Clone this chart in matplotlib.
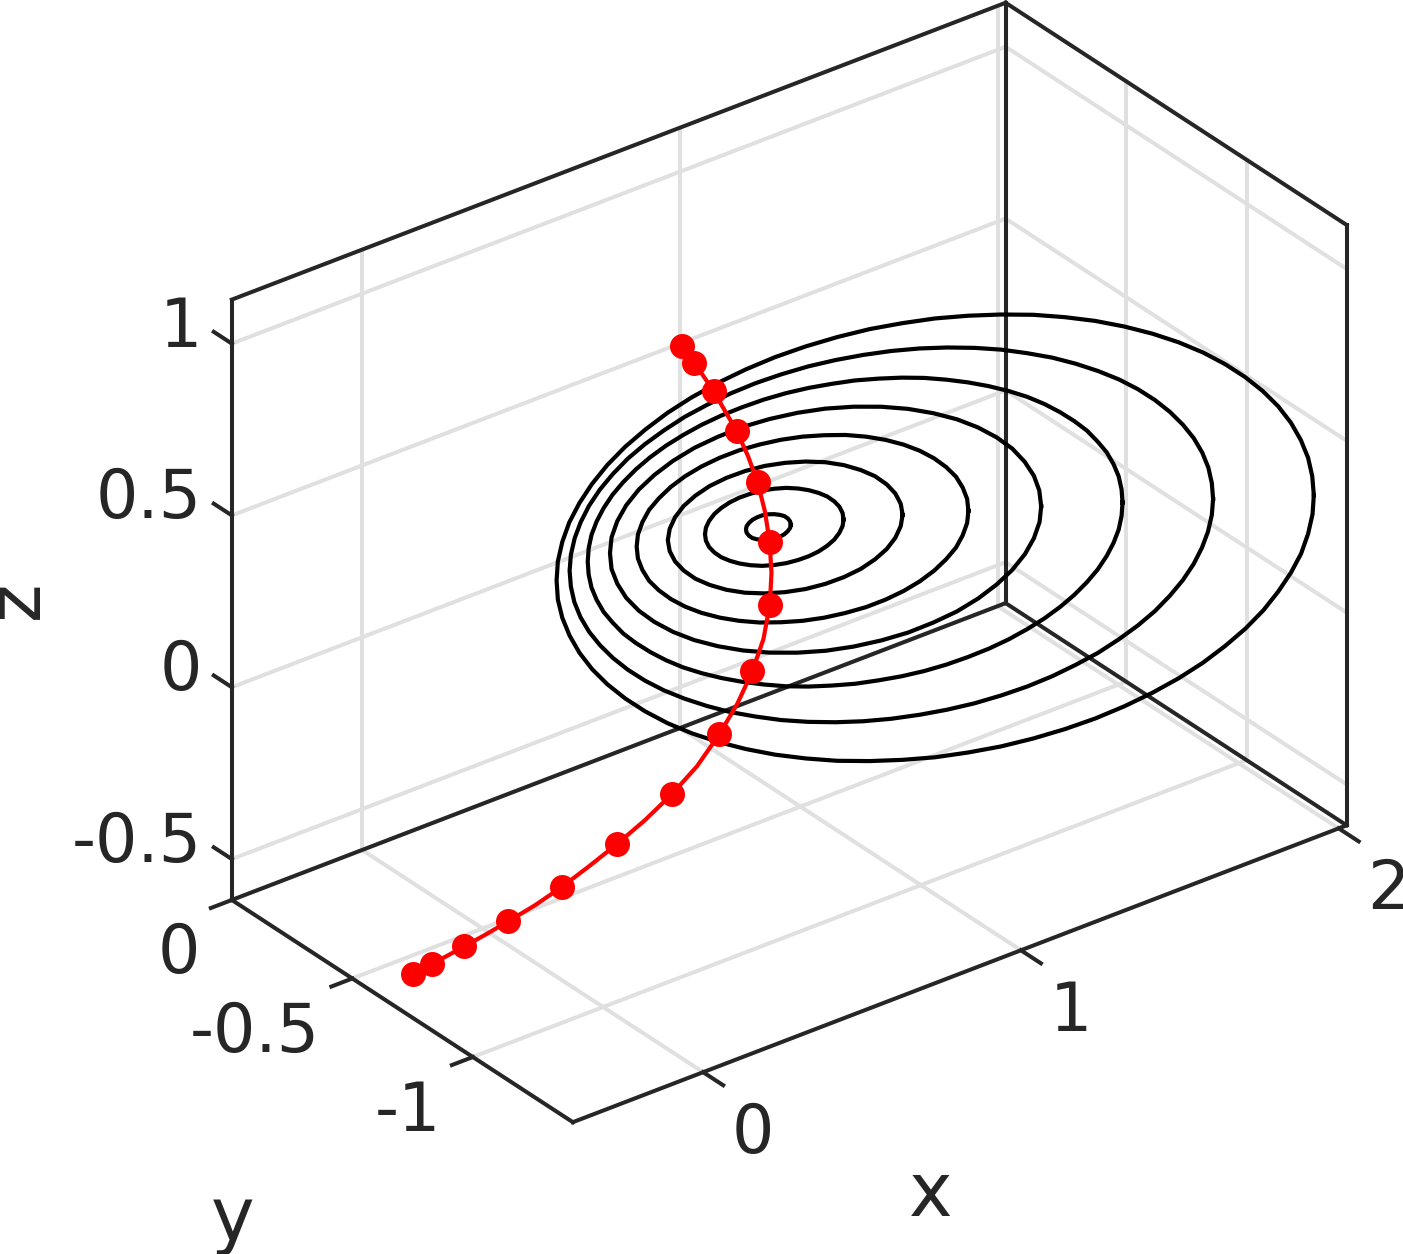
import matplotlib
matplotlib.use('Agg')
import matplotlib.pyplot as plt
from mpl_toolkits.mplot3d import proj3d

# axis limits and ticks
x_lim = [-0.41, 2.025]
y_lim = [-1.415, 0.0]
z_lim = [-0.619, 1.128]
x_ticks = [0, 1, 2]
y_ticks = [-1, -0.5, 0]
z_ticks = [-0.5, 0, 0.5, 1]
x_labels = ['0', '1', '2']
y_labels = ['-1', '-0.5', '0']
z_labels = ['-0.5', '0', '0.5', '1']

# red curve, every second point carries a marker
red_x = [0.47, 0.444, 0.419, 0.393, 0.367, 0.342, 0.316, 0.29, 0.264, 0.239, 0.213,
         0.187, 0.162, 0.136, 0.11, 0.085, 0.059, 0.033, 0.007, -0.018, -0.044,
         -0.07, -0.095, -0.121, -0.147, -0.173, -0.198, -0.224, -0.25, -0.275, -0.3]
red_y = [-0.707, -0.767, -0.826, -0.9, -0.975, -1.055, -1.138, -1.219, -1.293, -1.356, -1.41,
         -1.452, -1.478, -1.486, -1.474, -1.445, -1.404, -1.346, -1.276, -1.197, -1.115,
         -1.035, -0.953, -0.876, -0.8, -0.741, -0.685, -0.651, -0.62, -0.615, -0.607]
red_z = [1.004, 1.017, 1.028, 1.03, 1.031, 1.019, 1.008, 0.981, 0.948, 0.902, 0.847,
         0.784, 0.712, 0.626, 0.535, 0.437, 0.338, 0.228, 0.124, 0.021, -0.077,
         -0.168, -0.258, -0.337, -0.409, -0.465, -0.516, -0.549, -0.578, -0.586, -0.595]

# black closed curves, all read in one plane
loop_y = -1.3
x1 = [2.009, 2.004, 1.991, 1.968, 1.937, 1.897, 1.849, 1.793, 1.73, 1.66, 1.583, 1.501, 1.413, 1.321, 1.225, 1.126, 1.024, 0.921,
      0.817, 0.713, 0.611, 0.509, 0.41, 0.314, 0.222, 0.134, 0.051, -0.025, -0.095, -0.159, -0.215, -0.263, -0.302, -0.334, -0.356, -0.37,
      -0.374, -0.37, -0.356, -0.333, -0.302, -0.262, -0.214, -0.158, -0.095, -0.025, 0.052, 0.134, 0.222, 0.314, 0.41, 0.509, 0.611, 0.714,
      0.817, 0.921, 1.024, 1.126, 1.225, 1.321, 1.413, 1.501, 1.584, 1.66, 1.73, 1.794, 1.85, 1.897, 1.937, 1.969, 1.991, 2.005]
z1 = [0.295, 0.352, 0.41, 0.47, 0.531, 0.593, 0.654, 0.715, 0.775, 0.834, 0.891, 0.945, 0.997, 1.046, 1.091, 1.133, 1.17, 1.203,
      1.232, 1.255, 1.274, 1.287, 1.295, 1.298, 1.295, 1.287, 1.274, 1.256, 1.232, 1.204, 1.171, 1.133, 1.092, 1.047, 0.998, 0.946,
      0.892, 0.835, 0.777, 0.717, 0.656, 0.594, 0.533, 0.472, 0.412, 0.353, 0.296, 0.242, 0.19, 0.141, 0.096, 0.054, 0.017, -0.016,
      -0.045, -0.068, -0.087, -0.1, -0.108, -0.111, -0.108, -0.1, -0.087, -0.069, -0.045, -0.017, 0.016, 0.054, 0.095, 0.139, 0.189, 0.241]
x2 = [1.692, 1.688, 1.677, 1.658, 1.631, 1.597, 1.556, 1.509, 1.455, 1.396, 1.33, 1.26, 1.186, 1.107, 1.026, 0.942, 0.855, 0.768,
      0.68, 0.591, 0.504, 0.418, 0.333, 0.252, 0.174, 0.099, 0.029, -0.036, -0.096, -0.15, -0.197, -0.238, -0.272, -0.298, -0.317, -0.329,
      -0.333, -0.329, -0.318, -0.299, -0.272, -0.238, -0.197, -0.15, -0.096, -0.037, 0.029, 0.099, 0.173, 0.252, 0.333, 0.417, 0.504, 0.591,
      0.679, 0.768, 0.855, 0.941, 1.026, 1.107, 1.185, 1.26, 1.33, 1.395, 1.455, 1.509, 1.556, 1.597, 1.631, 1.657, 1.676, 1.688]
z2 = [0.396, 0.444, 0.493, 0.543, 0.595, 0.646, 0.698, 0.749, 0.8, 0.849, 0.897, 0.943, 0.987, 1.028, 1.067, 1.102, 1.134, 1.162,
      1.186, 1.206, 1.222, 1.234, 1.241, 1.244, 1.242, 1.235, 1.225, 1.209, 1.19, 1.167, 1.139, 1.108, 1.073, 1.035, 0.995, 0.951,
      0.906, 0.858, 0.809, 0.759, 0.707, 0.656, 0.604, 0.553, 0.502, 0.453, 0.405, 0.359, 0.315, 0.274, 0.235, 0.2, 0.168, 0.14,
      0.116, 0.096, 0.08, 0.068, 0.061, 0.058, 0.06, 0.067, 0.077, 0.093, 0.112, 0.135, 0.163, 0.194, 0.229, 0.267, 0.307, 0.351]
x3 = [1.407, 1.404, 1.395, 1.379, 1.357, 1.328, 1.295, 1.255, 1.21, 1.161, 1.107, 1.048, 0.986, 0.921, 0.853, 0.783, 0.712, 0.639,
      0.565, 0.492, 0.419, 0.348, 0.278, 0.21, 0.144, 0.082, 0.024, -0.03, -0.08, -0.124, -0.164, -0.198, -0.226, -0.248, -0.264, -0.273,
      -0.276, -0.273, -0.264, -0.248, -0.226, -0.197, -0.164, -0.124, -0.079, -0.03, 0.024, 0.083, 0.145, 0.21, 0.278, 0.348, 0.419, 0.492,
      0.566, 0.639, 0.712, 0.783, 0.853, 0.921, 0.987, 1.049, 1.107, 1.161, 1.211, 1.255, 1.295, 1.329, 1.357, 1.379, 1.395, 1.404]
z3 = [0.487, 0.526, 0.567, 0.608, 0.651, 0.693, 0.736, 0.778, 0.82, 0.861, 0.901, 0.939, 0.975, 1.009, 1.041, 1.071, 1.097, 1.12,
      1.141, 1.157, 1.171, 1.181, 1.187, 1.189, 1.188, 1.183, 1.174, 1.162, 1.146, 1.127, 1.104, 1.079, 1.05, 1.019, 0.986, 0.95,
      0.912, 0.873, 0.832, 0.791, 0.748, 0.706, 0.663, 0.621, 0.579, 0.538, 0.498, 0.46, 0.424, 0.39, 0.358, 0.328, 0.302, 0.279,
      0.258, 0.242, 0.228, 0.218, 0.212, 0.21, 0.211, 0.216, 0.225, 0.237, 0.253, 0.272, 0.295, 0.32, 0.349, 0.38, 0.413, 0.449]
x4 = [1.151, 1.145, 1.128, 1.099, 1.06, 1.011, 0.952, 0.886, 0.812, 0.732, 0.648, 0.561, 0.472, 0.384, 0.297, 0.213, 0.133, 0.059, -0.008, -0.066, -0.115, -0.155, -0.183, -0.201,
      -0.206, -0.201, -0.183, -0.155, -0.115, -0.066, -0.007, 0.059, 0.133, 0.213, 0.297, 0.384, 0.473, 0.561, 0.648, 0.732, 0.812, 0.886, 0.953, 1.011, 1.06, 1.1, 1.128, 1.146]
z4 = [0.567, 0.615, 0.664, 0.715, 0.767, 0.817, 0.867, 0.914, 0.958, 0.999, 1.035, 1.066, 1.092, 1.111, 1.124, 1.131, 1.13, 1.124, 1.11, 1.09, 1.065, 1.033, 0.997, 0.956,
      0.912, 0.864, 0.815, 0.764, 0.712, 0.662, 0.612, 0.565, 0.521, 0.48, 0.444, 0.413, 0.387, 0.368, 0.355, 0.348, 0.349, 0.355, 0.369, 0.389, 0.414, 0.446, 0.482, 0.523]
x5 = [0.922, 0.918, 0.904, 0.883, 0.852, 0.814, 0.769, 0.718, 0.661, 0.6, 0.535, 0.468, 0.4, 0.332, 0.265, 0.2, 0.139, 0.082, 0.031, -0.014, -0.052, -0.083, -0.104, -0.118,
      -0.122, -0.118, -0.104, -0.083, -0.052, -0.014, 0.031, 0.082, 0.139, 0.2, 0.265, 0.332, 0.4, 0.468, 0.535, 0.6, 0.661, 0.718, 0.769, 0.814, 0.852, 0.883, 0.904, 0.918]
z5 = [0.635, 0.671, 0.709, 0.748, 0.787, 0.826, 0.864, 0.9, 0.934, 0.965, 0.993, 1.016, 1.036, 1.051, 1.061, 1.067, 1.067, 1.062, 1.052, 1.037, 1.017, 0.994, 0.966, 0.935,
      0.901, 0.865, 0.827, 0.788, 0.749, 0.71, 0.672, 0.636, 0.602, 0.571, 0.543, 0.52, 0.5, 0.485, 0.475, 0.469, 0.469, 0.474, 0.484, 0.499, 0.519, 0.542, 0.57, 0.601]
x6 = [0.715, 0.709, 0.692, 0.665, 0.628, 0.583, 0.53, 0.472, 0.41, 0.346, 0.281, 0.219, 0.161, 0.108, 0.063, 0.026, -0.001, -0.018,
      -0.024, -0.018, -0.001, 0.026, 0.063, 0.108, 0.161, 0.219, 0.281, 0.345, 0.41, 0.472, 0.53, 0.583, 0.628, 0.665, 0.692, 0.709]
z6 = [0.697, 0.731, 0.767, 0.803, 0.84, 0.874, 0.907, 0.936, 0.96, 0.979, 0.993, 1.0, 1.001, 0.996, 0.984, 0.967, 0.944, 0.916,
      0.885, 0.851, 0.815, 0.779, 0.742, 0.708, 0.675, 0.646, 0.622, 0.603, 0.589, 0.582, 0.581, 0.586, 0.598, 0.615, 0.638, 0.666]
x7 = [0.529, 0.526, 0.516, 0.5, 0.478, 0.451, 0.42, 0.386, 0.349, 0.311, 0.273, 0.236, 0.202, 0.171, 0.144, 0.122, 0.106, 0.096,
      0.093, 0.096, 0.106, 0.122, 0.144, 0.171, 0.202, 0.236, 0.273, 0.311, 0.349, 0.386, 0.42, 0.451, 0.478, 0.5, 0.516, 0.526]
z7 = [0.749, 0.769, 0.791, 0.812, 0.834, 0.854, 0.873, 0.89, 0.905, 0.916, 0.924, 0.928, 0.929, 0.926, 0.919, 0.909, 0.895, 0.879,
      0.861, 0.841, 0.819, 0.798, 0.776, 0.756, 0.737, 0.72, 0.705, 0.694, 0.686, 0.682, 0.681, 0.684, 0.691, 0.701, 0.715, 0.731]
x8 = [0.363, 0.361, 0.354, 0.343, 0.328, 0.311, 0.293, 0.274, 0.257, 0.243, 0.232, 0.224,
      0.222, 0.224, 0.231, 0.242, 0.257, 0.274, 0.292, 0.311, 0.328, 0.342, 0.353, 0.361]
z8 = [0.793, 0.803, 0.814, 0.825, 0.834, 0.842, 0.848, 0.852, 0.852, 0.85, 0.845, 0.838,
      0.829, 0.819, 0.808, 0.797, 0.788, 0.78, 0.774, 0.77, 0.77, 0.772, 0.777, 0.784]

W, H = 1403, 1254
dark = '#262626'
light = '#e0e0e0'
fs = 48
fs_label = 53

fig = plt.figure(figsize=(W/100, H/100), dpi=100)
ax = fig.add_axes([130.6/W, 32.9/H, 1282.6/W, 1282.6/H], projection='3d',
                  proj_type='ortho', computed_zorder=False)
ax.view_init(elev=30, azim=-127.5)
ax.set_box_aspect((975, 560, 693))
ax.set_axis_off()

x0, x1_ = x_lim
y0, y1_ = y_lim
z0, z1_ = z_lim

def seg(a, b, color=dark, lw=2.9, zorder=2):
    ax.plot([a[0], b[0]], [a[1], b[1]], [a[2], b[2]], color=color, lw=lw,
            zorder=zorder, solid_capstyle='projecting')

#%% grid
for t in x_ticks:
    seg((t, y0, z0), (t, y1_, z0), light, zorder=1)
    seg((t, y1_, z0), (t, y1_, z1_), light, zorder=1)
for t in y_ticks:
    seg((x0, t, z0), (x1_, t, z0), light, zorder=1)
    seg((x1_, t, z0), (x1_, t, z1_), light, zorder=1)
for t in z_ticks:
    seg((x0, y1_, t), (x1_, y1_, t), light, zorder=1)
    seg((x1_, y0, t), (x1_, y1_, t), light, zorder=1)

#%% box
seg((x0, y0, z0), (x1_, y0, z0))
seg((x0, y0, z0), (x0, y1_, z0))
seg((x0, y1_, z0), (x1_, y1_, z0))
seg((x1_, y0, z0), (x1_, y1_, z0))
seg((x0, y1_, z0), (x0, y1_, z1_))
seg((x1_, y1_, z0), (x1_, y1_, z1_))
seg((x1_, y0, z0), (x1_, y0, z1_))
seg((x0, y1_, z1_), (x1_, y1_, z1_))
seg((x1_, y0, z1_), (x1_, y1_, z1_))

#%% data
for lx, lz in [(x1, z1), (x2, z2), (x3, z3), (x4, z4), (x5, z5), (x6, z6), (x7, z7), (x8, z8)]:
    ax.plot(lx + lx[:1], [loop_y]*(len(lx)+1), lz + lz[:1], color='black', lw=3.0, zorder=3)

ax.plot(red_x, red_y, red_z, color='red', lw=3.0, zorder=4)
ax.plot(red_x[::2], red_y[::2], red_z[::2], color='red', ls='none', marker='o', ms=18, mew=0, zorder=5)

ax.set_xlim(x0, x1_, view_margin=0)
ax.set_ylim(y0, y1_, view_margin=0)
ax.set_zlim(z0, z1_, view_margin=0)

#%% ticks and labels, placed by pixel offset from the projected anchor
def label(p, s, dx, dy, size=fs, **kw):
    u, v, _ = proj3d.proj_transform(p[0], p[1], p[2], ax.get_proj())
    ax.annotate(s, (u, v), xytext=(dx*0.72, -dy*0.72), textcoords='offset points',
                fontsize=size, color=dark, annotation_clip=False, **kw)

for t, s in zip(x_ticks, x_labels):
    seg((t, y0, z0), (t, y0-0.083, z0))
    label((t, y0, z0), s, 49.5, 62, ha='center', va='center')
for t, s in zip(y_ticks, y_labels):
    seg((x0, t, z0), (x0-0.066, t, z0))
    label((x0, t, z0), s, -32, 54.5, ha='right', va='center')
for t, s in zip(z_ticks, z_labels):
    seg((x0, y1_, t), (x0, y1_+0.075, t))
    label((x0, y1_, t), s, -30, -16, ha='right', va='center')

label((0.7, y0, z0), 'x', 5.6, 209, size=fs_label, ha='center', va='center')
label((x0, -0.7, z0), 'y', -167.7, 209.4, size=fs_label, ha='center', va='center')
label((x0, y1_, 0.25), 'z', -214, -1.5, size=fs_label, ha='center', va='center', rotation=90)

ax.set_xlim(x0, x1_, view_margin=0)
ax.set_ylim(y0, y1_, view_margin=0)
ax.set_zlim(z0, z1_, view_margin=0)

fig.savefig('out.png', dpi=100)
